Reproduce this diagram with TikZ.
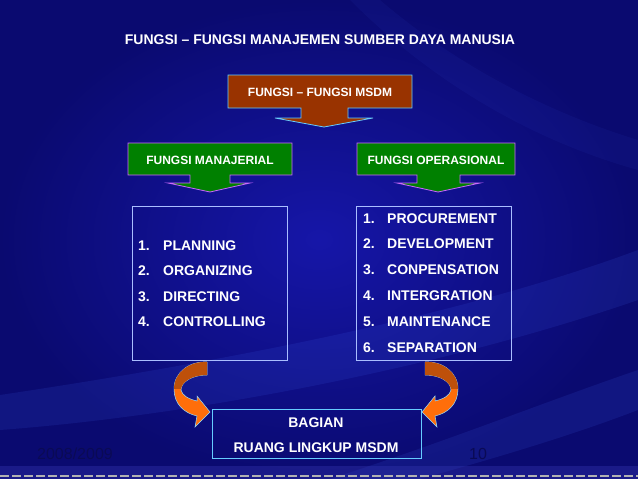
\documentclass[tikz,border=0pt]{standalone}
\usepackage{fontspec}
\setmainfont{Liberation Sans}
\definecolor{bgblue}{RGB}{22,22,168}
\definecolor{bgdark}{RGB}{10,10,112}
\definecolor{brownbox}{RGB}{153,51,0}
\definecolor{cyanline}{RGB}{102,204,255}
\definecolor{greenbox}{RGB}{0,128,0}
\definecolor{violetline}{RGB}{204,102,255}
\definecolor{listline}{RGB}{170,190,255}
\definecolor{orangearr}{RGB}{255,110,10}
\definecolor{brownarr}{RGB}{190,80,10}
\definecolor{foottext}{RGB}{10,10,85}
\definecolor{streak}{RGB}{70,110,255}
\tikzset{
  txt/.style={text=white, font=\bfseries\fontsize{14}{16}\selectfont, inner sep=0pt},
  smalltxt/.style={text=white, font=\bfseries\fontsize{12}{14}\selectfont, inner sep=0pt},
  listbox/.style={draw=listline, line width=0.8pt, inner sep=0pt},
  itemtxt/.style={txt, anchor=west},
  brownco/.style={draw=cyanline, fill=brownbox, line width=0.8pt},
  greenco/.style={draw=violetline, fill=greenbox, line width=0.8pt},
  curlarr/.style={fill=orangearr, draw=cyanline!70!white, line width=0.5pt},
  foot/.style={text=foottext, font=\fontsize{16}{18}\selectfont, inner sep=0pt},
}
\begin{document}
\begin{tikzpicture}[x=1pt,y=-1pt]
\useasboundingbox (0,0) rectangle (638,479);
% background
\shade[inner color=bgblue, outer color=bgdark] (0,0) rectangle (638,479);
\fill[streak, opacity=0.12] (0,395) .. controls (200,365) and (450,320) .. (638,250) -- (638,300) .. controls (450,365) and (200,415) .. (0,430) -- cycle;
\fill[streak, opacity=0.12] (330,479) .. controls (450,440) and (550,400) .. (638,370) -- (638,410) .. controls (560,440) and (470,465) .. (420,479) -- cycle;
\fill[streak, opacity=0.06] (380,0) .. controls (450,60) and (540,110) .. (638,140) -- (638,170) .. controls (530,140) and (430,80) .. (350,0) -- cycle;
\fill[bgblue!85!white, opacity=0.35] (0,466) rectangle (638,479);
\draw[gray!60, line width=1.2pt, dash pattern=on 9pt off 3pt] (0,476) -- (638,476);
% title
\node[txt] (title) at (320,40) {FUNGSI – FUNGSI MANAJEMEN SUMBER DAYA MANUSIA};
% top callout
\draw[brownco] (228,75) -- (412,75) -- (412,108) -- (348,108) -- (348,118) -- (373,118) -- (324,127) -- (275,118) -- (301,118) -- (301,108) -- (228,108) -- cycle;
\node[smalltxt] (msdm) at (320,92) {FUNGSI – FUNGSI MSDM};
% green callouts
\draw[greenco] (128,143) -- (292,143) -- (292,175) -- (230,175) -- (230,183) -- (250,183) -- (210,192) -- (168,183) -- (190,183) -- (190,175) -- (128,175) -- cycle;
\node[smalltxt] (manaj) at (210,160) {FUNGSI MANAJERIAL};
\draw[greenco] (357,143) -- (515,143) -- (515,175) -- (460,175) -- (460,183) -- (480,183) -- (438,192) -- (397,183) -- (417,183) -- (417,175) -- (357,175) -- cycle;
\node[smalltxt] (oper) at (436,160) {FUNGSI OPERASIONAL};
% list boxes
\node[listbox, minimum width=155pt, minimum height=154pt] (lbox) at (209.5,283) {};
\node[listbox, minimum width=155pt, minimum height=154pt] (rbox) at (433.5,283) {};
% left list
\node[itemtxt] (l1n) at (138,246) {1.};
\node[itemtxt] (l1) at (163,246) {PLANNING};
\node[itemtxt] (l2n) at (138,271) {2.};
\node[itemtxt] (l2) at (163,271) {ORGANIZING};
\node[itemtxt] (l3n) at (138,297) {3.};
\node[itemtxt] (l3) at (163,297) {DIRECTING};
\node[itemtxt] (l4n) at (138,322) {4.};
\node[itemtxt] (l4) at (163,322) {CONTROLLING};
% right list
\node[itemtxt] (r1n) at (363,219) {1.};
\node[itemtxt] (r1) at (387,219) {PROCUREMENT};
\node[itemtxt] (r2n) at (363,244) {2.};
\node[itemtxt] (r2) at (387,244) {DEVELOPMENT};
\node[itemtxt] (r3n) at (363,270) {3.};
\node[itemtxt] (r3) at (387,270) {CONPENSATION};
\node[itemtxt] (r4n) at (363,296) {4.};
\node[itemtxt] (r4) at (387,296) {INTERGRATION};
\node[itemtxt] (r5n) at (363,322) {5.};
\node[itemtxt] (r5) at (387,322) {MAINTENANCE};
\node[itemtxt] (r6n) at (363,348) {6.};
\node[itemtxt] (r6) at (387,348) {SEPARATION};
% bottom box
\node[draw=cyanline, line width=0.8pt, minimum width=209pt, minimum height=49pt] (bagian) at (316.5,433.5) {};
\node[txt] (bag1) at (316,423) {BAGIAN};
\node[txt] (bag2) at (316,448) {RUANG LINGKUP MSDM};
% curled arrows
\def\leftcurl{(207,362) .. controls (190,361) and (174,372) .. (174,389) .. controls (174,404) and (184,413) .. (197,416) -- (195,427) -- (210,412) -- (197,396) -- (197,401) .. controls (188,399) and (182,395) .. (181,390) .. controls (181,382) and (192,375) .. (207,375) -- cycle}
\draw[curlarr] \leftcurl;
\begin{scope}
  \clip (0,0) rectangle (638,388);
  \fill[brownarr] \leftcurl;
\end{scope}
\begin{scope}[shift={(632,0)}, xscale=-1]
  \draw[curlarr] \leftcurl;
  \begin{scope}
    \clip (0,0) rectangle (638,388);
    \fill[brownarr] \leftcurl;
  \end{scope}
\end{scope}
% footer
\node[foot, anchor=west] (date) at (37,454) {2008/2009};
\node[foot] (page) at (478,454) {10};
\end{tikzpicture}
\end{document}
